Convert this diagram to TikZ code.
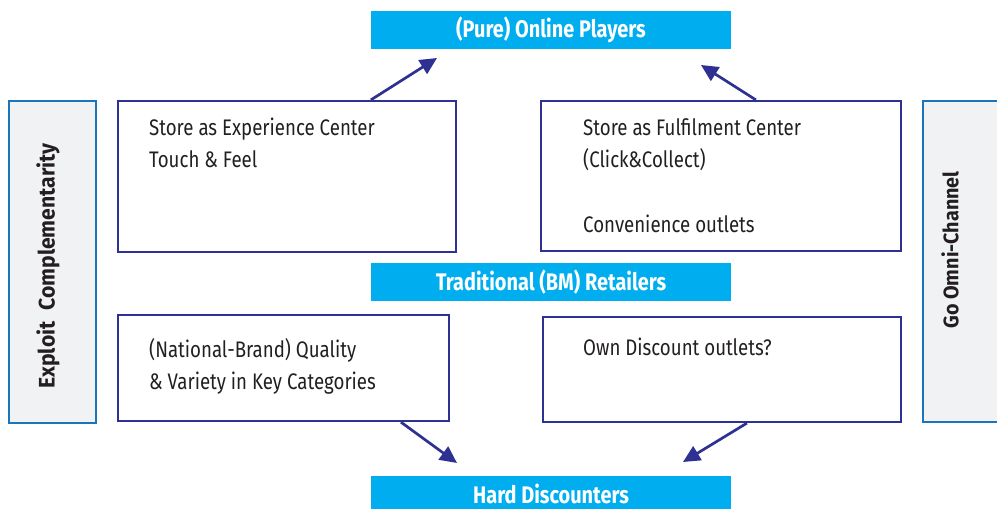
\documentclass[tikz,border=0pt]{standalone}
\usepackage{fontspec}
\setmainfont{Fira Sans}[FakeStretch=0.83]
\newfontfamily\sidefont{Fira Sans}[FakeStretch=0.94]
\usetikzlibrary{arrows.meta,calc}
\definecolor{navy}{HTML}{2E3192}
\definecolor{cyanband}{HTML}{00AEEF}
\definecolor{sideblue}{HTML}{1B75BB}
\definecolor{sidefill}{HTML}{F1F2F4}
\definecolor{ink}{HTML}{231F20}
\tikzset{
  band/.style={fill=cyanband, minimum width=360pt, minimum height=38pt, inner sep=0pt,
    text=white, font=\bfseries\fontsize{24}{24}\selectfont},
  card/.style={draw=navy, line width=2.2pt, inner sep=0pt},
  side/.style={draw=sideblue, line width=2pt, fill=sidefill, inner sep=0pt},
  sidetext/.style={rotate=90, text=ink, font=\sidefont\bfseries\fontsize{21}{21}\selectfont},
  cardtext/.style={anchor=base west, inner sep=0pt, text=ink, font=\fontsize{22.5}{22.5}\selectfont},
  flow/.style={draw=navy, line width=2.7pt, -{Triangle[length=17pt,width=16pt]}}
}
\begin{document}
\begin{tikzpicture}[x=1pt,y=-1pt]
\useasboundingbox (0,0) rectangle (997,509);
\clip (0,0) rectangle (997,509);

% channel bands
\node[band] (online) at (551,30) {(Pure) Online Players};
\node[band] (trad) at (551,282) {Traditional (BM) Retailers};
\node[band, minimum height=36pt] (hard) at (551,494) {Hard Discounters};

% strategy side bars
\node[side, minimum width=87pt, minimum height=322pt] (exploit) at (52.5,262) {};
\node[sidetext, font=\sidefont\bfseries\fontsize{22.5}{22.5}\selectfont] (exploitlbl) at (48,266)
  {Exploit\hspace{11pt}Complementarity};
\node[side, minimum width=87pt, minimum height=321pt] (omni) at (966.5,261.5) {};
\node[sidetext] (omnilbl) at (950,250) {Go Omni-Channel};

% option cards
\node[card, minimum width=338pt, minimum height=151pt] (tl) at (287,176.5) {};
\node[card, minimum width=360pt, minimum height=150pt] (tr) at (721,176) {};
\node[card, minimum width=331pt, minimum height=106pt] (bl) at (283.5,368) {};
\node[card, minimum width=358pt, minimum height=105pt] (br) at (722,369.5) {};

\node[cardtext] (tl1) at (149,135) {Store as Experience Center};
\node[cardtext] (tl2) at (149,167) {Touch \& Feel};
\node[cardtext] (tr1) at (583,135) {Store as Fulfilment Center};
\node[cardtext] (tr2) at (583,167) {(Click\&Collect)};
\node[cardtext] (tr3) at (583,232) {Convenience outlets};
\node[cardtext] (bl1) at (149,357) {(National-Brand) Quality};
\node[cardtext] (bl2) at (149,389) {\& Variety in Key Categories};
\node[cardtext] (br1) at (583,355) {Own Discount outlets?};

% arrow heads end just short of the bands
\coordinate (tipA) at (437,58);
\coordinate (tipB) at (701,65);
\coordinate (tipC) at (457,463);
\coordinate (tipD) at (683,462);

\draw[flow] ($(tl.north west)+(254,0)$) -- (tipA);
\draw[flow] ($(tr.north west)+(216,0)$) -- (tipB);
\draw[flow] ($(bl.south west)+(284,0)$) -- (tipC);
\draw[flow] ($(br.south west)+(205,0)$) -- (tipD);
\end{tikzpicture}
\end{document}
